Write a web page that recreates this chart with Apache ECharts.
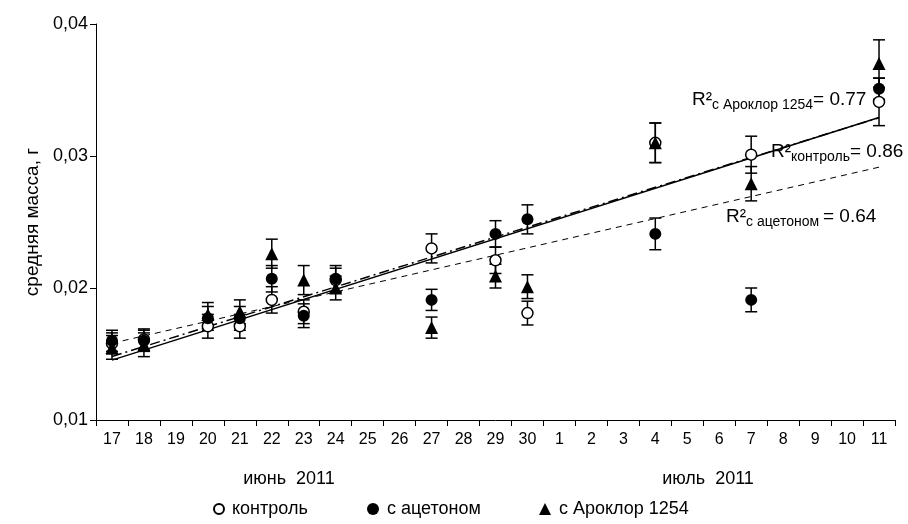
<!DOCTYPE html>
<html><head><meta charset="utf-8">
<script src="https://cdn.jsdelivr.net/npm/echarts@6/dist/echarts.min.js"></script>
<style>html,body{margin:0;padding:0;background:#fff}#c{width:908px;height:524px}</style>
</head><body><div id="c"></div>
<script>
// ---- data ----
const days = ['17','18','19','20','21','22','23','24','25','26','27','28','29','30','1','2','3','4','5','6','7','8','9','10','11'];
const sampleDays = ['17','18','20','21','22','23','24','27','29','30','4','7','11'];
const seriesNames = ['контроль','с ацетоном','с Ароклор 1254'];
const control    = [0.0158,0.0161,0.0171,0.0171,0.0191,0.0182,0.0206,0.0230,0.0221,0.0181,0.0310,0.0301,0.0341];
const controlErr = [0.0008,0.0008,0.0009,0.0009,0.0010,0.0009,0.0009,0.0011,0.0010,0.0009,0.0015,0.0014,0.0018];
const acetone    = [0.0160,0.0160,0.0177,0.0177,0.0207,0.0179,0.0207,0.0191,0.0241,0.0252,0.0241,0.0191,0.0351];
const acetoneErr = [0.0008,0.0008,0.0009,0.0009,0.0010,0.0009,0.0010,0.0008,0.0010,0.0011,0.0012,0.0009,0.0008];
const aroclor    = [0.0155,0.0157,0.0180,0.0182,0.0226,0.0206,0.0200,0.0170,0.0209,0.0201,0.0310,0.0279,0.0370];
const aroclorErr = [0.0009,0.0009,0.0009,0.0009,0.0011,0.0011,0.0009,0.0008,0.0009,0.0009,0.0015,0.0013,0.0018];
const r2Subs   = ['с Ароклор 1254','контроль','с ацетоном '];
const r2Values = ['0.77','0.86','0.64'];
const monthLabels = ['июнь  2011','июль  2011'];
const yAxisName = 'средняя масса, г';
const yMin = 0.01, yMax = 0.04, yStep = 0.01;

// ---- build ----
const FONT = 'Liberation Sans, Arial, sans-serif';
const xs = sampleDays.map(d => days.indexOf(d));
function pts(vals){ return vals.map((v,i)=>[xs[i], v]); }
function errs(vals, e){ return vals.map((v,i)=>[xs[i], v - e[i], v + e[i]]); }
function fit(vals){
  const n = vals.length;
  const mx = xs.reduce((a,b)=>a+b,0)/n, my = vals.reduce((a,b)=>a+b,0)/n;
  let sxy=0, sxx=0;
  for(let i=0;i<n;i++){ sxy += (xs[i]-mx)*(vals[i]-my); sxx += (xs[i]-mx)*(xs[i]-mx); }
  const b = sxy/sxx, a = my - b*mx;
  const x0 = xs[0], x1 = xs[n-1];
  return [[x0, a + b*x0],[x1, a + b*x1]];
}
function errRender(params, api){
  const x = api.value(0);
  const lo = api.coord([x, api.value(1)]);
  const hi = api.coord([x, api.value(2)]);
  const hw = 6;
  const st = {stroke:'#000', lineWidth:1.5};
  return {type:'group', children:[
    {type:'line', shape:{x1:lo[0], y1:lo[1], x2:hi[0], y2:hi[1]}, style:st},
    {type:'line', shape:{x1:lo[0]-hw, y1:lo[1], x2:lo[0]+hw, y2:lo[1]}, style:st},
    {type:'line', shape:{x1:hi[0]-hw, y1:hi[1], x2:hi[0]+hw, y2:hi[1]}, style:st}
  ]};
}
function errSeries(vals, e){
  return {type:'custom', name:'err', renderItem: errRender, data: errs(vals, e),
    encode:{x:0, y:[1,2]}, z:1, silent:true};
}
function trendSeries(vals, lineType, width){
  return {type:'line', name:'trend', data: fit(vals), symbol:'none', z:2, silent:true,
    lineStyle:{color:'#000', width: width, type: lineType}};
}
const chart = echarts.init(document.getElementById('c'), null, {renderer:'canvas'});
const txt = {color:'#000', fontFamily: FONT};
function r2Text(i){
  return '{a|R²}{s|' + r2Subs[i] + '}{a|= ' + r2Values[i] + '}';
}
const rich = {
  a:{fontSize:19, fontFamily:FONT, color:'#000', lineHeight:22, verticalAlign:'top'},
  s:{fontSize:14, fontFamily:FONT, color:'#000', lineHeight:16, padding:[9,0,0,0], verticalAlign:'bottom'}
};
const legendText = {fontSize:18, padding:[0,0,0,3], ...txt};
const option = {
  animation:false,
  backgroundColor:'#fff',
  grid:{left:96, right:13, top:24, bottom:104, containLabel:false},
  xAxis:{type:'category', data: days, boundaryGap:true,
    axisLine:{lineStyle:{color:'#000', width:1}},
    axisTick:{show:true, length:6, alignWithLabel:false, interval:0, lineStyle:{color:'#000'}},
    axisLabel:{interval:0, fontSize:16, margin:12, ...txt},
    splitLine:{show:false}},
  yAxis:{type:'value', min:yMin, max:yMax, interval:yStep,
    name: yAxisName, nameLocation:'middle', nameGap:54, nameRotate:90,
    nameTextStyle:{fontSize:19, ...txt},
    axisLine:{show:true, lineStyle:{color:'#000', width:1}},
    axisTick:{show:true, length:6, lineStyle:{color:'#000'}},
    axisLabel:{fontSize:18, margin:8, ...txt, formatter: v => v.toFixed(2).replace('.', ',')},
    splitLine:{show:false}},
  legend:[
    {data:[seriesNames[0]], left:208, top:495, itemWidth:10, itemHeight:10, itemGap:0, textStyle:legendText},
    {data:[seriesNames[1]], left:362, top:495, itemWidth:12, itemHeight:12, itemGap:0, textStyle:legendText},
    {data:[seriesNames[2]], left:534, top:495, itemWidth:12, itemHeight:12, itemGap:0, textStyle:legendText}
  ],
  graphic:[
    {type:'text', x:289, y:479, style:{text:monthLabels[0], fontSize:18, fontFamily:FONT, fill:'#000', align:'center', verticalAlign:'middle'}},
    {type:'text', x:708, y:479, style:{text:monthLabels[1], fontSize:18, fontFamily:FONT, fill:'#000', align:'center', verticalAlign:'middle'}},
    {type:'text', x:692, y:90, z:10, style:{text:r2Text(0), rich:rich, fill:'#000'}},
    {type:'text', x:771, y:142, z:10, style:{text:r2Text(1), rich:rich, fill:'#000'}},
    {type:'text', x:726, y:207, z:10, style:{text:r2Text(2), rich:rich, fill:'#000'}}
  ],
  series:[
    errSeries(control, controlErr),
    errSeries(acetone, acetoneErr),
    errSeries(aroclor, aroclorErr),
    trendSeries(control, 'solid', 1.5),
    trendSeries(acetone, [6,5], 1),
    trendSeries(aroclor, [10,4,2,4], 1.5),
    {type:'scatter', name:seriesNames[0], data:pts(control), symbol:'circle', symbolSize:11, z:3,
      itemStyle:{color:'#fff', borderColor:'#000', borderWidth:1.5, opacity:1}},
    {type:'scatter', name:seriesNames[1], data:pts(acetone), symbol:'circle', symbolSize:12, z:3,
      itemStyle:{color:'#000', borderColor:'#000', borderWidth:0, opacity:1}},
    {type:'scatter', name:seriesNames[2], data:pts(aroclor), symbol:'triangle', symbolSize:13, z:3,
      itemStyle:{color:'#000', opacity:1}}
  ]
};
chart.setOption(option);
</script>
</body></html>
